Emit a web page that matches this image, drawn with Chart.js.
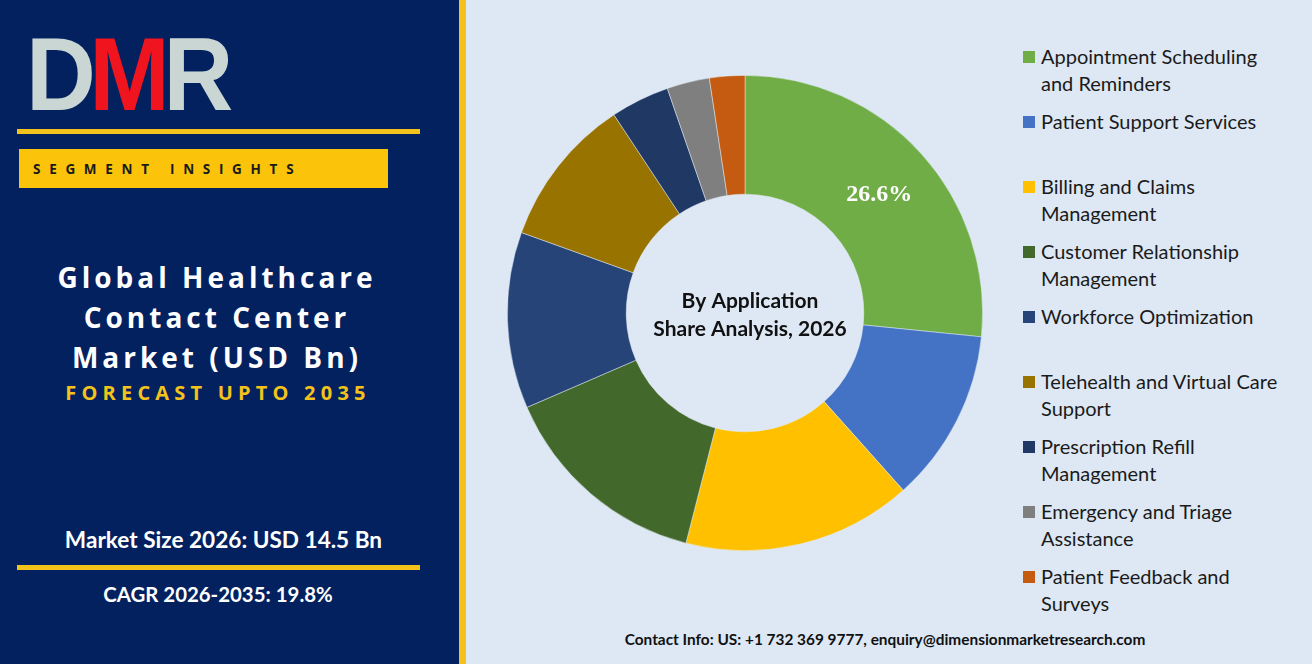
<!DOCTYPE html>
<html>
<head>
<meta charset="utf-8">
<script src="https://cdn.jsdelivr.net/npm/chart.js@4.4.1/dist/chart.umd.min.js"></script>
<style>
  html, body { margin: 0; padding: 0; }
  body { width: 1312px; height: 664px; position: relative; overflow: hidden; background: #dde8f4; font-family: Lato, "Open Sans", sans-serif; }
  .left { position: absolute; left: 0; top: 0; width: 459px; height: 664px; background: #03215f; }
  .vbar { position: absolute; left: 459px; top: 0; width: 7px; height: 664px; background: #f3c21b; }
  .logo { position: absolute; left: 26px; top: 22px; font-family: "Liberation Sans", Arial, sans-serif; font-weight: bold; font-size: 104px; letter-spacing: -7px; transform: scaleX(0.93); transform-origin: left top; line-height: 1; }
  .logo .g { color: #c9d6d3; }
  .logo .r { color: #f0141e; }
  .hline { position: absolute; left: 17px; width: 403px; height: 5px; background: #f3c21b; }
  .seg { position: absolute; left: 19px; top: 149px; width: 369px; height: 39px; background: #fbc30a; }
  .seg span { position: absolute; left: 14px; top: 11px; font-family: "Open Sans", sans-serif; font-weight: bold; font-size: 13.5px; letter-spacing: 8.7px; color: #1a1a1a; }
  .title { position: absolute; left: 0; width: 434px; text-align: center; color: #fff; font-family: "Open Sans", sans-serif; font-weight: bold; font-size: 28px; letter-spacing: 4px; line-height: 40px; top: 257px; }
  .fc { position: absolute; left: 0; width: 436px; text-align: center; color: #f3c21b; font-family: "Open Sans", sans-serif; font-weight: bold; font-size: 20px; letter-spacing: 5.2px; top: 379px; }
  .ms { position: absolute; left: 0; width: 447px; text-align: center; color: #fff; font-family: Lato, sans-serif; font-weight: bold; font-size: 22.6px; top: 526px; }
  .cagr { position: absolute; left: 0; width: 436px; text-align: center; color: #fff; font-family: Lato, sans-serif; font-weight: bold; font-size: 20.4px; top: 582px; }
  #wrap { position: absolute; left: 507px; top: 75px; width: 476px; height: 476px; }
  .legend { position: absolute; left: 1023px; top: 0; }
  .li { position: absolute; left: 0; width: 289px; }
  .li i { position: absolute; left: 0; top: 8px; width: 12px; height: 12px; }
  .li div { position: absolute; left: 18px; top: 0; font-size: 20px; line-height: 27px; color: #1a1a1a; white-space: nowrap; }
  .contact { position: absolute; left: 600px; width: 570px; text-align: center; top: 630px; font-family: Lato, sans-serif; font-weight: bold; font-size: 15.4px; color: #111; }
</style>
</head>
<body>
<div class="left"></div>
<div class="vbar"></div>
<div class="logo"><span class="g">D</span><span class="r">M</span><span class="g">R</span></div>
<div class="hline" style="top:129px"></div>
<div class="seg"><span>SEGMENT INSIGHTS</span></div>
<div class="title">Global Healthcare<br>Contact Center<br>Market (USD Bn)</div>
<div class="fc">FORECAST UPTO 2035</div>
<div class="ms">Market Size 2026: USD 14.5 Bn</div>
<div class="hline" style="top:565px"></div>
<div class="cagr">CAGR 2026-2035: 19.8%</div>
<div id="wrap"><canvas id="chart"></canvas></div>
<div class="legend" id="legend"></div>
<div class="contact">Contact Info: US: +1 732 369 9777, enquiry@dimensionmarketresearch.com</div>
<script>
// Application segments, share of 2026 market (%)
const categories = [
  "Appointment Scheduling and Reminders",
  "Patient Support Services",
  "Billing and Claims Management",
  "Customer Relationship Management",
  "Workforce Optimization",
  "Telehealth and Virtual Care Support",
  "Prescription Refill Management",
  "Emergency and Triage Assistance",
  "Patient Feedback and Surveys"
];
const legendLines = [
  ["Appointment Scheduling", "and Reminders"],
  ["Patient Support Services"],
  ["Billing and Claims", "Management"],
  ["Customer Relationship", "Management"],
  ["Workforce Optimization"],
  ["Telehealth and Virtual Care", "Support"],
  ["Prescription Refill", "Management"],
  ["Emergency and Triage", "Assistance"],
  ["Patient Feedback and", "Surveys"]
];
const shares = [26.6, 11.8, 15.6, 14.5, 12.0, 10.2, 4.0, 2.9, 2.4];
const colors = ["#70ad47", "#4472c4", "#ffc000", "#43682b", "#264478", "#997300", "#203864", "#7f7f7f", "#c55a11"];
const labelIndex = 0; // only the largest slice carries a label

// legend built from the same arrays
const legendEl = document.getElementById("legend");
legendLines.forEach((lines, i) => {
  const item = document.createElement("div");
  item.className = "li";
  item.style.top = (43 + i * 65) + "px";
  item.innerHTML = '<i style="background:' + colors[i] + '"></i><div>' + lines.join("<br>") + "</div>";
  legendEl.appendChild(item);
});

const centerText = {
  id: "centerText",
  afterDraw(chart) {
    const ctx = chart.ctx;
    const arc = chart.getDatasetMeta(0).data[0];
    ctx.save();
    ctx.fillStyle = "#111";
    ctx.font = "bold 21px Lato, sans-serif";
    ctx.textAlign = "center";
    ctx.textBaseline = "middle";
    ctx.fillText("By Application", arc.x + 5, arc.y - 12);
    ctx.fillText("Share Analysis, 2026", arc.x + 5, arc.y + 16);
    // value label on the largest slice
    const p = chart.getDatasetMeta(0).data[labelIndex].tooltipPosition();
    ctx.fillStyle = "#fff";
    ctx.font = "bold 24px 'Liberation Serif', serif";
    ctx.fillText(shares[labelIndex].toFixed(1) + "%", p.x + 2, p.y + 1);
    ctx.restore();
  }
};

new Chart(document.getElementById("chart"), {
  type: "doughnut",
  data: {
    labels: categories,
    datasets: [{
      data: shares,
      backgroundColor: colors,
      borderColor: "rgba(230,238,246,0.6)",
      borderWidth: 0.8
    }]
  },
  options: {
    responsive: true,
    maintainAspectRatio: false,
    animation: false,
    cutout: "50%",
    layout: { padding: 0 },
    plugins: {
      legend: { display: false },
      tooltip: { enabled: false }
    }
  },
  plugins: [centerText]
});
</script>
</body>
</html>
